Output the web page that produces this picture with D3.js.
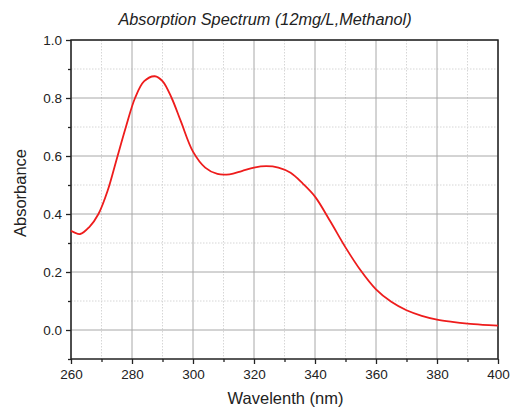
<!DOCTYPE html>
<html>
<head>
<meta charset="utf-8">
<script src="https://cdn.jsdelivr.net/npm/d3@7"></script>
<style>
  body { margin: 0; background: #fff; }
  text { font-family: "Liberation Sans", Arial, sans-serif; }
</style>
</head>
<body>
<div id="chart"></div>
<script>
// spectrum
var wavelength = [260, 263, 266, 269, 272, 275, 278, 281, 284, 287.5, 290, 293, 296, 300, 304, 308, 312, 316, 320, 324, 328, 332, 336, 340, 345, 350, 355, 360, 365, 370, 375, 380, 385, 390, 395, 400];
var absorbance = [0.342, 0.331, 0.355, 0.40, 0.48, 0.59, 0.70, 0.80, 0.858, 0.875, 0.858, 0.80, 0.72, 0.615, 0.56, 0.538, 0.537, 0.548, 0.56, 0.565, 0.56, 0.542, 0.505, 0.46, 0.375, 0.285, 0.205, 0.14, 0.097, 0.068, 0.049, 0.036, 0.028, 0.022, 0.018, 0.015];
var xTicks = [260, 280, 300, 320, 340, 360, 380, 400];
var xMinor = [270, 290, 310, 330, 350, 370, 390];
var yTicks = [0.0, 0.2, 0.4, 0.6, 0.8, 1.0];
var yMinor = [-0.1, 0.1, 0.3, 0.5, 0.7, 0.9];

var svgWidth = 510, svgHeight = 408;
var margin = { top: 40, right: 12, bottom: 50, left: 71 };
var width = 498 - margin.left;
var height = 359 - margin.top;

var svg = d3.select("#chart").append("svg")
  .attr("width", svgWidth)
  .attr("height", svgHeight);

var g = svg.append("g")
  .attr("transform", `translate(${margin.left}, ${margin.top})`);

var x = d3.scaleLinear().domain([260, 400]).range([0, width]);
var y = d3.scaleLinear().domain([-0.1, 1.0]).range([height, 0]);

// minor grid (dotted)
g.append("g").selectAll("line").data(xMinor).enter().append("line")
  .attr("x1", d => x(d)).attr("x2", d => x(d))
  .attr("y1", 0).attr("y2", height)
  .attr("stroke", "#d6d6d6").attr("stroke-dasharray", "1.5,1.5");
g.append("g").selectAll("line").data(yMinor.filter(d => d > -0.1)).enter().append("line")
  .attr("y1", d => y(d)).attr("y2", d => y(d))
  .attr("x1", 0).attr("x2", width)
  .attr("stroke", "#d6d6d6").attr("stroke-dasharray", "1.5,1.5");

// major grid
g.append("g").selectAll("line").data(xTicks).enter().append("line")
  .attr("x1", d => x(d)).attr("x2", d => x(d))
  .attr("y1", 0).attr("y2", height)
  .attr("stroke", "#a8a8a8").attr("stroke-width", 1);
g.append("g").selectAll("line").data(yTicks).enter().append("line")
  .attr("y1", d => y(d)).attr("y2", d => y(d))
  .attr("x1", 0).attr("x2", width)
  .attr("stroke", "#a8a8a8").attr("stroke-width", 1);

// axes
var xAxis = g.append("g")
  .attr("transform", `translate(0, ${height})`)
  .call(d3.axisBottom(x).tickValues(xTicks).tickFormat(d3.format("d")).tickSize(5).tickPadding(5));
var xAxisMinor = g.append("g")
  .attr("transform", `translate(0, ${height})`)
  .call(d3.axisBottom(x).tickValues(xMinor).tickFormat("").tickSize(3));
var yAxis = g.append("g")
  .call(d3.axisLeft(y).tickValues(yTicks).tickFormat(d3.format(".1f")).tickSize(5).tickPadding(4));
var yAxisMinor = g.append("g")
  .call(d3.axisLeft(y).tickValues(yMinor).tickFormat("").tickSize(3));

[xAxis, xAxisMinor, yAxis, yAxisMinor].forEach(function(a) {
  a.select(".domain").remove();
  a.selectAll(".tick line").attr("stroke", "#222").attr("stroke-width", 1.3);
  a.selectAll("text").attr("font-size", 13.5).attr("fill", "#222")
    .style("font-family", '"Liberation Sans", Arial, sans-serif');
});

// frame
g.append("rect")
  .attr("x", 0).attr("y", 0)
  .attr("width", width).attr("height", height)
  .attr("fill", "none").attr("stroke", "#222").attr("stroke-width", 1.5);

// spectrum line
var pts = wavelength.map((w, i) => [w, absorbance[i]]);
var line = d3.line()
  .x(d => x(d[0]))
  .y(d => y(d[1]))
  .curve(d3.curveCatmullRom.alpha(0.5));

g.append("path")
  .datum(pts)
  .attr("d", line)
  .attr("fill", "none")
  .attr("stroke", "#ee1c1c")
  .attr("stroke-width", 1.8);

// title and labels
svg.append("text")
  .attr("x", 265).attr("y", 25)
  .attr("text-anchor", "middle")
  .attr("font-size", 16.3)
  .attr("font-style", "italic")
  .attr("fill", "#222")
  .text("Absorption Spectrum (12mg/L,Methanol)");

svg.append("text")
  .attr("x", 285.5).attr("y", 404)
  .attr("text-anchor", "middle")
  .attr("font-size", 16.5)
  .attr("fill", "#222")
  .text("Wavelenth (nm)");

svg.append("text")
  .attr("transform", "translate(26, 193) rotate(-90)")
  .attr("text-anchor", "middle")
  .attr("font-size", 16.5)
  .attr("fill", "#222")
  .text("Absorbance");
</script>
</body>
</html>
